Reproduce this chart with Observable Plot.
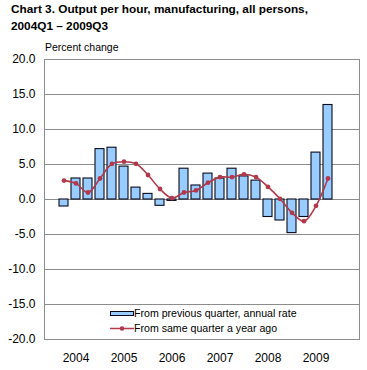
<!DOCTYPE html>
<html>
<head>
<meta charset="utf-8">
<script src="https://cdn.jsdelivr.net/npm/d3@7"></script>
<script src="https://cdn.jsdelivr.net/npm/@observablehq/plot@0.6"></script>
<style>
  html, body { margin: 0; padding: 0; background: #fff; }
  body { width: 367px; height: 370px; overflow: hidden; font-family: "Liberation Sans", Arial, sans-serif; }
  #wrap { position: relative; width: 367px; height: 370px; }
  #title { position: absolute; left: 11px; top: 1px; font-weight: bold; font-size: 11.8px; line-height: 17px; color: #000; white-space: nowrap; }
  #chart { position: absolute; left: 0; top: 40px; }
  #ylab { position: absolute; left: 45px; top: 41px; font-size: 10.5px; line-height: 13px; color: #000; }
  .leg { position: absolute; font-size: 10.6px; line-height: 13px; color: #000; white-space: nowrap; }
</style>
</head>
<body>
<div id="wrap">
  <div id="title">Chart 3. Output per hour, manufacturing, all persons,<br>2004Q1 – 2009Q3</div>
  <div id="chart"></div>
  <div id="ylab">Percent change</div>
  <svg style="position:absolute;left:0;top:0" width="367" height="370">
    <rect x="110.5" y="311.5" width="23" height="4" fill="#99CCFF" stroke="#0a0a1e" stroke-width="1"></rect>
    <line x1="110" x2="134" y1="328.5" y2="328.5" stroke="#b03a4c" stroke-width="1.5"></line>
    <circle cx="122" cy="328.5" r="2.3" fill="#b03a4c"></circle>
  </svg>
  <div class="leg" style="left:134px; top:307px;">From previous quarter, annual rate</div>
  <div class="leg" style="left:134px; top:322px;">From same quarter a year ago</div>
</div>
<script>
const quarters = [
  "2004Q1","2004Q2","2004Q3","2004Q4",
  "2005Q1","2005Q2","2005Q3","2005Q4",
  "2006Q1","2006Q2","2006Q3","2006Q4",
  "2007Q1","2007Q2","2007Q3","2007Q4",
  "2008Q1","2008Q2","2008Q3","2008Q4",
  "2009Q1","2009Q2","2009Q3","2009Q4"
];
// From previous quarter, annual rate (2004Q1 - 2009Q3)
const prevQuarter = [
  -1.0, 3.0, 3.0, 7.2,
  7.4, 4.7, 1.7, 0.8,
  -0.9, -0.2, 4.4, 2.0,
  3.7, 3.0, 4.4, 3.3,
  2.7, -2.5, -3.0, -4.8,
  -2.5, 6.7, 13.5
];
// From same quarter a year ago
const yearAgo = [
  2.7, 2.3, 1.0, 3.0,
  5.1, 5.4, 5.1, 3.5,
  1.5, 0.2, 1.0, 1.3,
  2.4, 3.2, 3.2, 3.6,
  3.2, 1.8, 0.1, -1.9,
  -3.1, -0.9, 3.0
];
const yTicks = [-20, -15, -10, -5, 0, 5, 10, 15, 20];
const yearTicks = ["2004Q2","2005Q2","2006Q2","2007Q2","2008Q2","2009Q2"];

const barData = prevQuarter.map((v, i) => ({q: quarters[i], v}));
const lineData = yearAgo.map((v, i) => ({q: quarters[i], v}));

const plot = Plot.plot({
  width: 367,
  height: 330,
  marginTop: 19,
  marginBottom: 31,
  marginLeft: 44,
  marginRight: 8,
  style: {fontFamily: "Liberation Sans, Arial, sans-serif", fontSize: "12px", color: "#000", background: "transparent"},
  x: {type: "band", domain: quarters, padding: 0.28, align: 0.5, label: null},
  y: {domain: [-20, 20], label: null},
  marks: [
    Plot.ruleY(yTicks, {stroke: "#8c8c8c", strokeWidth: 1}),
    Plot.frame({stroke: "#8c8c8c", strokeWidth: 1}),
    Plot.barY(barData, {x: "q", y: "v", fill: "#99CCFF", stroke: "#0a0a1e", strokeWidth: 1.1}),
    Plot.line(lineData, {x: "q", y: "v", stroke: "#b03a4c", strokeWidth: 1.6, curve: "catmull-rom"}),
    Plot.dot(lineData, {x: "q", y: "v", fill: "#b03a4c", r: 2.4}),
    Plot.axisY({ticks: yTicks, tickFormat: d => d.toFixed(1), tickSize: 0, tickPadding: 9, label: null, fontSize: 12}),
    Plot.axisX({ticks: yearTicks, tickFormat: d => d.slice(0, 4), tickSize: 0, tickPadding: 14, label: null, fontSize: 12})
  ]
});
document.getElementById("chart").appendChild(plot);
</script>
</body>
</html>
